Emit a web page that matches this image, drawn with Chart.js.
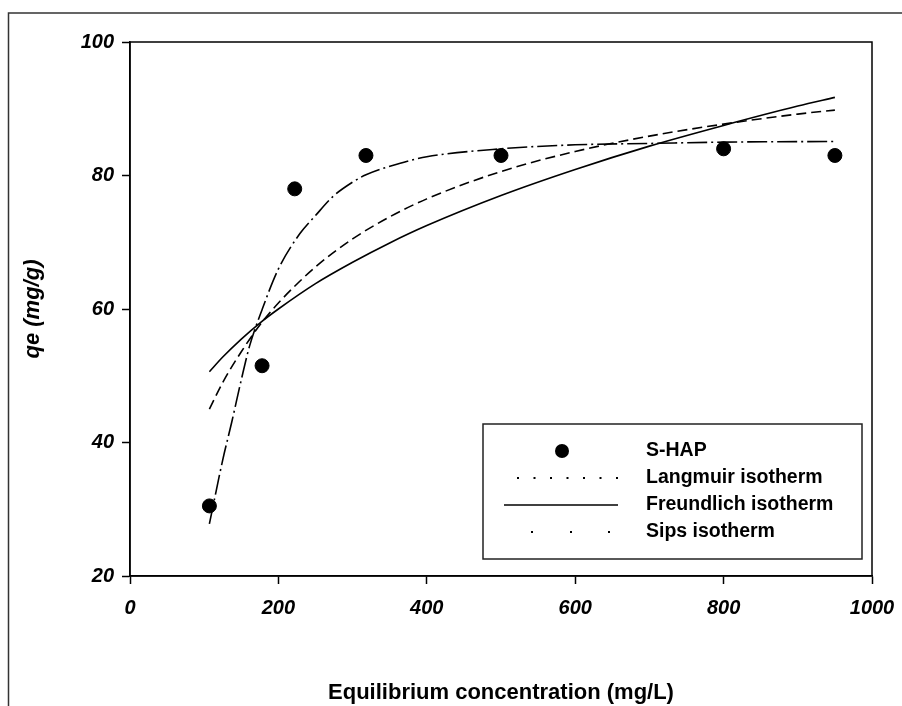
<!DOCTYPE html>
<html>
<head>
<meta charset="utf-8">
<script src="https://cdn.jsdelivr.net/npm/chart.js@4.4.1/dist/chart.umd.min.js"></script>
<style>
  body { margin: 0; background: #fff; }
  #wrap { width: 902px; height: 706px; }
</style>
</head>
<body>
<div id="wrap"><canvas id="isoChart" width="902" height="706"></canvas></div>
<script>
// Measured S-HAP points
const ceData = [107, 178, 222, 318, 500, 800, 950];
const qeData = [30.5, 51.5, 78, 83, 83, 84, 83];

// Fitted curves
const fitC = [107, 125, 150, 175, 200, 250, 300, 350, 400, 500, 600, 700, 800, 900, 950];
const langmuirQ = [45.0, 49.0, 53.6, 57.6, 60.9, 66.3, 70.5, 73.8, 76.5, 80.6, 83.6, 85.9, 87.7, 89.2, 89.8];
const freundlichQ = [50.6, 52.8, 55.5, 57.9, 60.0, 63.8, 67.0, 69.9, 72.5, 77.0, 80.9, 84.4, 87.5, 90.4, 91.7];
const sipsC = [107, 125, 137, 150, 161, 178, 200, 229, 250, 273, 300, 318, 363, 400, 500, 600, 700, 800, 950];
const sipsQ = [27.8, 37.4, 43.0, 49.4, 54.4, 59.9, 66.0, 71.3, 74.0, 76.8, 79.0, 80.1, 81.8, 82.8, 84.0, 84.6, 84.8, 85.0, 85.1];

const xTicks = [0, 200, 400, 600, 800, 1000];
const yTicks = [20, 40, 60, 80, 100];

const FONT = "'Liberation Sans', Arial, sans-serif";
const toXY = (xs, ys) => xs.map((x, i) => ({ x, y: ys[i] }));

// frame round the figure, box round the plot, and the boxed legend
const figurePlugin = {
  id: 'figureDecor',
  beforeDraw(chart) {
    const ctx = chart.ctx;
    ctx.save();
    ctx.fillStyle = '#fff';
    ctx.fillRect(0, 0, chart.width, chart.height);
    ctx.strokeStyle = '#333';
    ctx.lineWidth = 1.5;
    ctx.beginPath();
    ctx.moveTo(8.5, chart.height);
    ctx.lineTo(8.5, 13);
    ctx.lineTo(chart.width, 13);
    ctx.stroke();
    ctx.restore();
  },
  afterDraw(chart) {
    const ctx = chart.ctx;
    const a = chart.chartArea;
    ctx.save();
    ctx.strokeStyle = '#000';
    ctx.lineWidth = 1.5;
    ctx.strokeRect(a.left, a.top, a.right - a.left, a.bottom - a.top);

    // legend box
    const bx = 483, by = 424, bw = 379, bh = 135;
    ctx.strokeStyle = '#222';
    ctx.strokeRect(bx, by, bw, bh);

    const rows = [451, 478, 505, 532];
    const ds = chart.data.datasets;
    ctx.fillStyle = '#000';
    ctx.font = 'bold 19.5px ' + FONT;
    ctx.textBaseline = 'middle';
    ctx.textAlign = 'left';
    ds.forEach((d, i) => ctx.fillText(d.label, 646, rows[i]));

    // S-HAP marker
    ctx.beginPath();
    ctx.arc(562, rows[0], 7, 0, Math.PI * 2);
    ctx.fill();
    // Langmuir sample (dotted)
    for (let k = 0; k < 7; k++) ctx.fillRect(517 + k * 16.5, rows[1] - 1, 2, 2);
    // Freundlich sample (solid)
    ctx.strokeStyle = '#000';
    ctx.lineWidth = 1.5;
    ctx.beginPath();
    ctx.moveTo(504, rows[2]);
    ctx.lineTo(618, rows[2]);
    ctx.stroke();
    // Sips sample (sparse dots)
    [531, 570, 608].forEach(x => ctx.fillRect(x, rows[3] - 1, 2, 2));
    ctx.restore();
  }
};

new Chart(document.getElementById('isoChart'), {
  type: 'scatter',
  data: {
    datasets: [
      {
        label: 'S-HAP',
        data: toXY(ceData, qeData),
        pointRadius: 7,
        pointBackgroundColor: '#000',
        pointBorderColor: '#000',
        showLine: false
      },
      {
        label: 'Langmuir isotherm',
        data: toXY(fitC, langmuirQ),
        showLine: true,
        pointRadius: 0,
        borderColor: '#000',
        borderWidth: 1.6,
        borderDash: [10, 5],
        cubicInterpolationMode: 'monotone'
      },
      {
        label: 'Freundlich isotherm',
        data: toXY(fitC, freundlichQ),
        showLine: true,
        pointRadius: 0,
        borderColor: '#000',
        borderWidth: 1.6,
        cubicInterpolationMode: 'monotone'
      },
      {
        label: 'Sips isotherm',
        data: toXY(sipsC, sipsQ),
        showLine: true,
        pointRadius: 0,
        borderColor: '#000',
        borderWidth: 1.6,
        borderDash: [20, 4, 2, 4],
        cubicInterpolationMode: 'monotone'
      }
    ]
  },
  options: {
    responsive: false,
    animation: false,
    layout: { padding: { top: 42, right: 30, left: 0, bottom: 0 } },
    plugins: {
      legend: { display: false },
      tooltip: { enabled: false }
    },
    scales: {
      x: {
        type: 'linear',
        min: 0,
        max: 1000,
        afterBuildTicks: s => { s.ticks = xTicks.map(v => ({ value: v })); },
        afterFit: s => { s.height = 130; s.paddingLeft = 0; s.paddingRight = 0; },
        ticks: {
          color: '#000',
          padding: 12,
          callback: v => String(v),
          font: { family: FONT, size: 20, weight: 'bold', style: 'italic' }
        },
        grid: { drawOnChartArea: false, drawTicks: true, tickLength: 8, tickColor: '#000', tickWidth: 1.5 },
        border: { color: '#000', width: 1.5 },
        title: {
          display: true,
          text: 'Equilibrium concentration (mg/L)',
          color: '#000',
          font: { family: FONT, size: 22, weight: 'bold' },
          padding: { top: 0, bottom: 0 }
        }
      },
      y: {
        min: 20,
        max: 100,
        afterBuildTicks: s => { s.ticks = yTicks.map(v => ({ value: v })); },
        afterFit: s => { s.width = 130; s.paddingTop = 0; s.paddingBottom = 0; },
        ticks: {
          color: '#000',
          padding: 8,
          callback: v => String(v),
          font: { family: FONT, size: 20, weight: 'bold', style: 'italic' }
        },
        grid: { drawOnChartArea: false, drawTicks: true, tickLength: 8, tickColor: '#000', tickWidth: 1.5 },
        border: { color: '#000', width: 1.5 },
        title: {
          display: true,
          text: 'qe (mg/g)',
          color: '#000',
          font: { family: FONT, size: 22, weight: 'bold', style: 'italic' },
          padding: { top: 20, bottom: 0 }
        }
      }
    }
  },
  plugins: [figurePlugin]
});
</script>
</body>
</html>
